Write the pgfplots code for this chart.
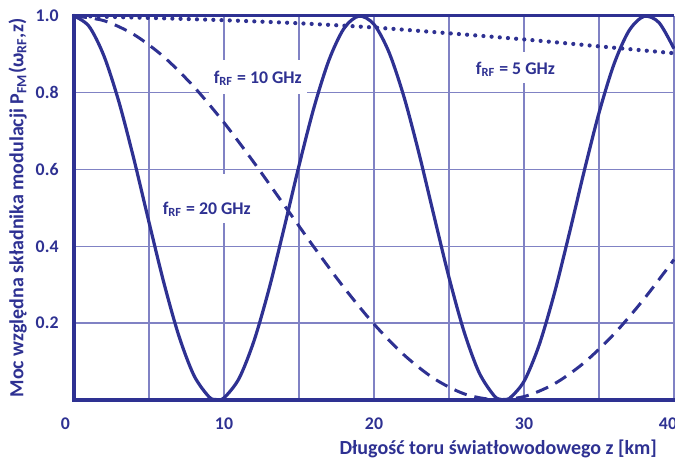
\documentclass[border=0pt]{standalone}
\usepackage{fontspec}
\setmainfont{Carlito}
\usepackage{pgfplots}
\pgfplotsset{compat=1.18}

\definecolor{mainblue}{RGB}{46,49,146}
\definecolor{gridblue}{RGB}{128,130,196}

% Relative power of the FM modulation component vs. fibre length
\begin{document}
\begin{tikzpicture}
\begin{axis}[
  name=ax,
  at={(0,0)}, anchor=south west,
  scale only axis,
  width=300pt, height=192pt,
  xmin=0, xmax=40, ymin=0, ymax=1,
  font=\fontsize{8.9}{10}\selectfont\bfseries,
  every tick label/.append style={mainblue},
  xtick={0,10,20,30,40},
  xticklabels={\makebox[0pt][r]{0\hspace{2.1pt}},10,20,30,\makebox[0pt]{40\hspace{6pt}}},
  minor xtick={5,15,25,35},
  ytick={0.2,0.4,0.6,0.8,1.0},
  yticklabels={0.2,0.4,0.6,0.8,1.0},
  major tick length=0pt, minor tick length=0pt,
  xticklabel style={yshift=-5.5pt},
  yticklabel style={xshift=-4.2pt},
  grid=both,
  major grid style={line width=0.7pt, gridblue},
  minor grid style={line width=0.7pt, gridblue},
  axis line style={draw=none},
  clip=false,
  xlabel={Długość toru światłowodowego z [km]},
  xlabel style={at={(axis description cs:0.9833,0)}, anchor=base east,
                yshift=-27.5pt, mainblue, font=\fontsize{10}{12}\selectfont\bfseries},
  ylabel={Moc względna składnika modulacji P\textsubscript{FM}(ω\textsubscript{RF},z)},
  ylabel style={at={(axis description cs:-0.094,0.5)}, anchor=center,
                mainblue, font=\fontsize{10}{12}\selectfont\bfseries},
]

% white boxes behind the curve labels
\fill[white] (axis cs:9.0,0.797) rectangle (axis cs:15.5,0.885);
\fill[white] (axis cs:6.0,0.461) rectangle (axis cs:11.9,0.589);
\fill[white] (axis cs:26.4,0.826) rectangle (axis cs:32.4,0.906);

\node[mainblue, inner sep=0pt] at (axis cs:12.25,0.838) {f\textsubscript{RF} = 10 GHz};
\node[mainblue, inner sep=0pt] at (axis cs:8.85,0.497) {f\textsubscript{RF} = 20 GHz};
\node[mainblue, inner sep=0pt] at (axis cs:29.43,0.861) {f\textsubscript{RF} = 5 GHz};

% f_RF = 20 GHz
\addplot[mainblue, line width=1.6pt, smooth, tension=0.5] coordinates {
(0,1.000) (1,0.9732) (2,0.8957) (3,0.7756) (4,0.6261) (5,0.4630)
(6,0.3039) (7,0.1659) (8,0.0636) (9,0.0082) (9.5,0.0010) (10,0.0055)
(11,0.0558) (12,0.1540) (13,0.2889) (14,0.4466) (15,0.6101)
(16,0.7618) (17,0.8854) (18,0.9677) (19,0.9997) (20,0.9782)
(21,0.9055) (22,0.7892) (23,0.6420) (24,0.4795) (25,0.3192)
(26,0.1784) (27,0.0719) (28,0.0114) (28.5,0.0010) (29,0.0033)
(30,0.0485) (31,0.1421) (32,0.2741) (33,0.4303) (34,0.5940)
(35,0.7476) (36,0.8747) (37,0.9616) (38,0.9989) (39,0.9828) (40,0.9149)
};

% f_RF = 10 GHz
\addplot[mainblue, line width=1.5pt, smooth, dash pattern=on 6.5pt off 4pt] coordinates {
(0,1.000) (2,0.9877) (4,0.9515) (6,0.8932) (8,0.8154) (10,0.7223)
(12,0.6182) (14,0.5083) (16,0.3980) (18,0.2927) (20,0.1976)
(22,0.1174) (24,0.0559) (26,0.0162) (28,0.0010) (30,0.0089)
(32,0.0416) (34,0.0968) (36,0.1717) (38,0.2630) (40,0.3657)
};

% f_RF = 5 GHz
\addplot[mainblue, line width=2.1pt, smooth, line cap=round,
         dash pattern=on 0pt off 4.1pt] coordinates {
(0,1.000) (5,0.995) (10,0.989) (15,0.981) (20,0.970)
(25,0.955) (30,0.939) (35,0.921) (40,0.903)
};
\end{axis}

% axis frame: left, bottom and top
\draw[mainblue, line width=1.7pt, line cap=rect]
  (ax.north west) -- (ax.south west) -- (ax.south east);
\draw[mainblue, line width=1.5pt] (ax.north west) -- (ax.north east);

\pgfresetboundingbox
\useasboundingbox (-37pt,-29.5pt) rectangle (300.5pt,200pt);
\end{tikzpicture}
\end{document}
